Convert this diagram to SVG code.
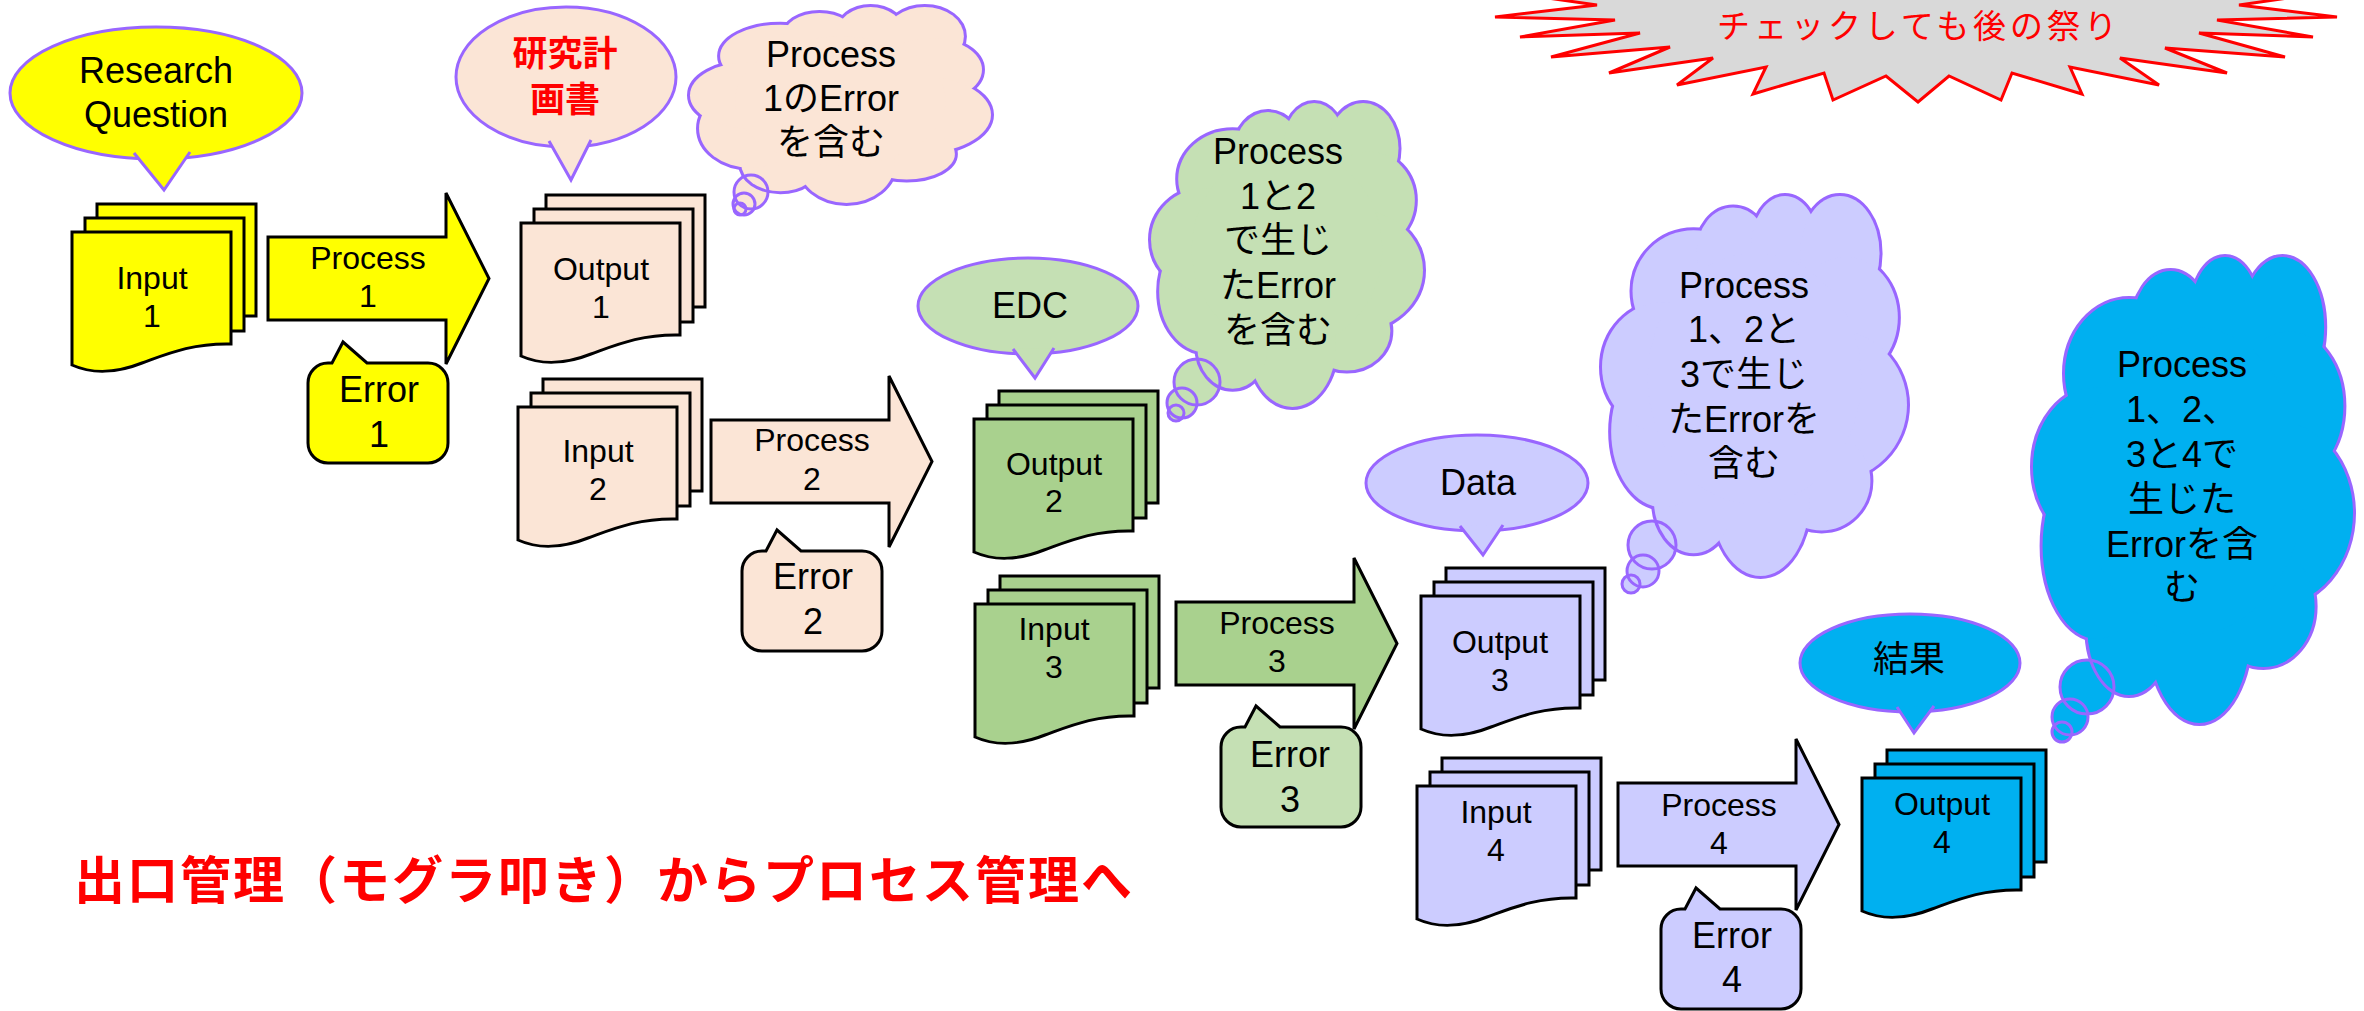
<svg xmlns="http://www.w3.org/2000/svg" width="2364" height="1011" viewBox="0 0 2364 1011">
<defs>
<style>
.t{font-family:"Liberation Sans","Noto Sans CJK JP",sans-serif;text-anchor:middle;fill:#000}
.s32{font-size:32px}
.s36{font-size:36px}
.blk{stroke:#000;stroke-width:3;stroke-linejoin:miter}
.pur{stroke:#9966FF;stroke-width:3}
.bub{stroke:none}
.bubs{fill:none;stroke:#9966FF;stroke-width:3}
#cloud ellipse{vector-effect:non-scaling-stroke}
.jp{font-family:"Noto Sans CJK JP",sans-serif}
</style>
<g id="docs">
 <rect x="25" y="-28" width="159" height="112"/>
 <rect x="13" y="-14" width="159" height="113"/>
 <path d="M0,0H159V112C120,111 95,122 70,131C45,141 20,142 0,133Z"/>
</g>
<path id="arrow" d="M0,0H178V-44L221,41.5L178,127V83H0Z"/>
<path id="err" d="M20,0H24L35,-21L59,0H120A20,20 0 0 1 140,20V80A20,20 0 0 1 120,100H20A20,20 0 0 1 0,80V20A20,20 0 0 1 20,0Z"/>
<g id="cloud">
 <ellipse cx="30" cy="25" rx="20" ry="16"/>
 <ellipse cx="43" cy="15" rx="12" ry="12"/>
 <ellipse cx="60" cy="13" rx="11" ry="13"/>
 <ellipse cx="78" cy="15" rx="13" ry="15"/>
 <ellipse cx="80" cy="32" rx="17" ry="16"/>
 <ellipse cx="75" cy="55" rx="25" ry="20"/>
 <ellipse cx="72" cy="75" rx="16" ry="13"/>
 <ellipse cx="52" cy="80" rx="16" ry="20"/>
 <ellipse cx="30" cy="80" rx="13" ry="14"/>
 <ellipse cx="20" cy="62" rx="17" ry="20"/>
 <ellipse cx="20" cy="45" rx="20" ry="17"/>
 <ellipse cx="50" cy="48" rx="35" ry="33"/>
</g>
</defs>
<rect width="2364" height="1011" fill="#fff"/>

<g id="connectors"></g>

<!-- explosion -->
<g id="warning">
 <polygon points="1597,5 1495,17 1615,20 1520,37 1640,33 1551,57 1670,47 1609,73 1713,58 1677,85 1766,67 1753,94 1824,73 1833,100 1886,76 1918,102 1949,76 2001,100 2012,73 2082,94 2070,67 2159,85 2120,58 2227,73 2165,48 2285,57 2199,33 2313,37 2217,20 2337,17 2239,5 2330,-8 2240,-30 1600,-30 1505,-8" fill="#D9D9D9" stroke="#FF0000" stroke-width="3"/>
 <text class="jp" x="1917" y="38" font-size="33" text-anchor="middle" fill="#FF0000" textLength="400" lengthAdjust="spacing">チェックしても後の祭り</text>
</g>

<!-- yellow -->
<g id="rq">
 <ellipse cx="156" cy="93" rx="146" ry="66" fill="#FFFF00" class="pur"/>
 <path d="M134,153L164,190L190,152" fill="#FFFF00" class="pur"/>
 <text class="t s36"><tspan x="156" y="83">Research</tspan><tspan x="156" y="127">Question</tspan></text>
</g>
<g id="input1">
 <use href="#docs" x="72" y="232" class="blk" fill="#FFFF00"/>
 <text class="t s32"><tspan x="152" y="289">Input</tspan><tspan x="152" y="327">1</tspan></text>
</g>
<g id="process1">
 <use href="#arrow" x="268" y="237" class="blk" fill="#FFFF00"/>
 <text class="t s32"><tspan x="368" y="269">Process</tspan><tspan x="368" y="307">1</tspan></text>
</g>
<g id="error1">
 <use href="#err" x="308" y="363" class="blk" fill="#FFFF00"/>
 <text class="t s36"><tspan x="379" y="402">Error</tspan><tspan x="379" y="447">1</tspan></text>
</g>

<!-- peach -->
<g id="plan">
 <ellipse cx="566" cy="77" rx="110" ry="70" fill="#FBE5D6" class="pur"/>
 <path d="M549,141L571,180L591,140" fill="#FBE5D6" class="pur"/>
 <text class="jp" font-size="35" font-weight="bold" fill="#FF0000" text-anchor="middle"><tspan x="565" y="66">研究計</tspan><tspan x="565" y="112">画書</tspan></text>
</g>
<g id="cloud1">
 <circle cx="751" cy="192" r="17" fill="#FBE5D6" class="bub"/>
 <circle cx="744" cy="204" r="11" fill="#FBE5D6" class="bub"/>
 <circle cx="740" cy="209" r="6" fill="#FBE5D6" class="bub"/>
 <use href="#cloud" transform="translate(690,7) scale(3.01,1.96)" fill="#FBE5D6" stroke="#9966FF" stroke-width="6"/>
 <use href="#cloud" transform="translate(690,7) scale(3.01,1.96)" fill="#FBE5D6" stroke="none"/>
 <circle cx="751" cy="192" r="17" class="bubs"/>
 <circle cx="744" cy="204" r="11" class="bubs"/>
 <circle cx="740" cy="209" r="6" class="bubs"/>
 <text class="t s36"><tspan x="831" y="67">Process</tspan><tspan x="831" y="111">1のError</tspan><tspan x="831" y="155">を含む</tspan></text>
</g>
<g id="output1">
 <use href="#docs" x="521" y="223" class="blk" fill="#FBE5D6"/>
 <text class="t s32"><tspan x="601" y="280">Output</tspan><tspan x="601" y="318">1</tspan></text>
</g>
<g id="input2">
 <use href="#docs" x="518" y="407" class="blk" fill="#FBE5D6"/>
 <text class="t s32"><tspan x="598" y="462">Input</tspan><tspan x="598" y="500">2</tspan></text>
</g>
<g id="process2">
 <use href="#arrow" x="711" y="420" class="blk" fill="#FBE5D6"/>
 <text class="t s32"><tspan x="812" y="451">Process</tspan><tspan x="812" y="490">2</tspan></text>
</g>
<g id="error2">
 <use href="#err" x="742" y="551" class="blk" fill="#FBE5D6"/>
 <text class="t s36"><tspan x="813" y="589">Error</tspan><tspan x="813" y="634">2</tspan></text>
</g>

<!-- green -->
<g id="edc">
 <ellipse cx="1028" cy="306" rx="110" ry="48" fill="#C5E0B4" class="pur"/>
 <path d="M1013,349L1035,378L1054,348" fill="#C5E0B4" class="pur"/>
 <text class="t s36" x="1030" y="318">EDC</text>
</g>
<g id="cloud2">
 <circle cx="1197" cy="382" r="23" fill="#C5E0B4" class="bub"/>
 <circle cx="1182" cy="403" r="15" fill="#C5E0B4" class="bub"/>
 <circle cx="1176" cy="413" r="8" fill="#C5E0B4" class="bub"/>
 <use href="#cloud" transform="translate(1151,103) scale(2.72,3.04)" fill="#C5E0B4" stroke="#9966FF" stroke-width="6"/>
 <use href="#cloud" transform="translate(1151,103) scale(2.72,3.04)" fill="#C5E0B4" stroke="none"/>
 <circle cx="1197" cy="382" r="23" class="bubs"/>
 <circle cx="1182" cy="403" r="15" class="bubs"/>
 <circle cx="1176" cy="413" r="8" class="bubs"/>
 <text class="t s36"><tspan x="1278" y="164">Process</tspan><tspan x="1278" y="209">1と2</tspan><tspan x="1278" y="253">で生じ</tspan><tspan x="1278" y="298">たError</tspan><tspan x="1278" y="343">を含む</tspan></text>
</g>
<g id="output2">
 <use href="#docs" x="974" y="419" class="blk" fill="#A9D18E"/>
 <text class="t s32"><tspan x="1054" y="475">Output</tspan><tspan x="1054" y="512">2</tspan></text>
</g>
<g id="input3">
 <use href="#docs" x="975" y="604" class="blk" fill="#A9D18E"/>
 <text class="t s32"><tspan x="1054" y="640">Input</tspan><tspan x="1054" y="678">3</tspan></text>
</g>
<g id="process3">
 <use href="#arrow" x="1176" y="602" class="blk" fill="#A9D18E"/>
 <text class="t s32"><tspan x="1277" y="634">Process</tspan><tspan x="1277" y="672">3</tspan></text>
</g>
<g id="error3">
 <use href="#err" x="1221" y="727" class="blk" fill="#C5E0B4"/>
 <text class="t s36"><tspan x="1290" y="767">Error</tspan><tspan x="1290" y="812">3</tspan></text>
</g>

<!-- lavender -->
<g id="data">
 <ellipse cx="1477" cy="483" rx="111" ry="48" fill="#CCCCFF" class="pur"/>
 <path d="M1460,526L1483,555L1503,525" fill="#CCCCFF" class="pur"/>
 <text class="t s36" x="1478" y="495">Data</text>
</g>
<g id="cloud3">
 <circle cx="1652" cy="545" r="24" fill="#CCCCFF" class="bub"/>
 <circle cx="1643" cy="571" r="16" fill="#CCCCFF" class="bub"/>
 <circle cx="1631" cy="584" r="9" fill="#CCCCFF" class="bub"/>
 <use href="#cloud" transform="translate(1602,196) scale(3.05,3.8)" fill="#CCCCFF" stroke="#9966FF" stroke-width="6"/>
 <use href="#cloud" transform="translate(1602,196) scale(3.05,3.8)" fill="#CCCCFF" stroke="none"/>
 <circle cx="1652" cy="545" r="24" class="bubs"/>
 <circle cx="1643" cy="571" r="16" class="bubs"/>
 <circle cx="1631" cy="584" r="9" class="bubs"/>
 <text class="t s36"><tspan x="1744" y="298">Process</tspan><tspan x="1744" y="342">1、2と</tspan><tspan x="1744" y="387">3で生じ</tspan><tspan x="1744" y="432">たErrorを</tspan><tspan x="1744" y="476">含む</tspan></text>
</g>
<g id="output3">
 <use href="#docs" x="1421" y="596" class="blk" fill="#CCCCFF"/>
 <text class="t s32"><tspan x="1500" y="653">Output</tspan><tspan x="1500" y="691">3</tspan></text>
</g>
<g id="input4">
 <use href="#docs" x="1417" y="786" class="blk" fill="#CCCCFF"/>
 <text class="t s32"><tspan x="1496" y="823">Input</tspan><tspan x="1496" y="861">4</tspan></text>
</g>
<g id="process4">
 <use href="#arrow" x="1618" y="783" class="blk" fill="#CCCCFF"/>
 <text class="t s32"><tspan x="1719" y="816">Process</tspan><tspan x="1719" y="854">4</tspan></text>
</g>
<g id="error4">
 <use href="#err" x="1661" y="909" class="blk" fill="#CCCCFF"/>
 <text class="t s36"><tspan x="1732" y="948">Error</tspan><tspan x="1732" y="992">4</tspan></text>
</g>

<!-- cyan -->
<g id="result">
 <ellipse cx="1910" cy="663" rx="110" ry="49" fill="#00B0F0" class="pur"/>
 <path d="M1897,707L1914,733L1934,706" fill="#00B0F0" class="pur"/>
 <text class="t s36" x="1909" y="672">結果</text>
</g>
<g id="cloud4">
 <circle cx="2087" cy="687" r="27" fill="#00B0F0" class="bub"/>
 <circle cx="2070" cy="717" r="18" fill="#00B0F0" class="bub"/>
 <circle cx="2062" cy="732" r="10" fill="#00B0F0" class="bub"/>
 <use href="#cloud" transform="translate(2033,257) scale(3.2,4.66)" fill="#00B0F0" stroke="#9966FF" stroke-width="6"/>
 <use href="#cloud" transform="translate(2033,257) scale(3.2,4.66)" fill="#00B0F0" stroke="none"/>
 <circle cx="2087" cy="687" r="27" class="bubs"/>
 <circle cx="2070" cy="717" r="18" class="bubs"/>
 <circle cx="2062" cy="732" r="10" class="bubs"/>
 <text class="t s36"><tspan x="2182" y="377">Process</tspan><tspan x="2182" y="422">1、2、</tspan><tspan x="2182" y="467">3と4で</tspan><tspan x="2182" y="512">生じた</tspan><tspan x="2182" y="557">Errorを含</tspan><tspan x="2182" y="600">む</tspan></text>
</g>
<g id="output4">
 <use href="#docs" x="1862" y="778" class="blk" fill="#00B0F0"/>
 <text class="t s32"><tspan x="1942" y="815">Output</tspan><tspan x="1942" y="853">4</tspan></text>
</g>

<g id="slogan">
 <text class="jp" x="74" y="899" font-size="51" font-weight="bold" fill="#FF0000" textLength="1058" lengthAdjust="spacing">出口管理（モグラ叩き）からプロセス管理へ</text>
</g>
</svg>
